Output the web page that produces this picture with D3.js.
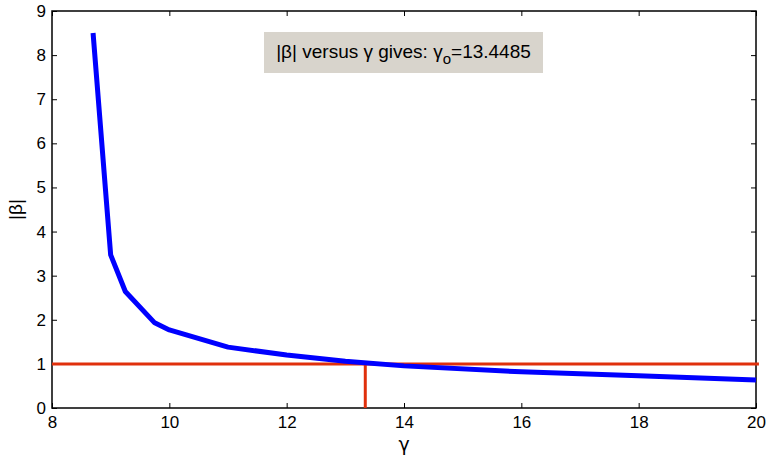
<!DOCTYPE html>
<html>
<head>
<meta charset="utf-8">
<script src="https://cdn.jsdelivr.net/npm/d3@7"></script>
<style>
  body { margin: 0; background: #fff; }
  text { font-family: "Liberation Sans", Arial, sans-serif; }
</style>
</head>
<body>
<div id="main"></div>
<script>
// |beta| versus gamma
const gammaVals = [8.7, 9.0, 9.25, 9.75, 10, 11, 12, 13, 14, 16, 18, 20];
const betaVals = [8.5, 3.47, 2.64, 1.93, 1.77, 1.38, 1.2, 1.06, 0.955, 0.82, 0.73, 0.635];

const refLevel = 1;         // horizontal red line
const gammaMark = 13.34;    // vertical red marker
const xTicks = [8, 10, 12, 14, 16, 18, 20];
const yTicks = [0, 1, 2, 3, 4, 5, 6, 7, 8, 9];

const W = 767, H = 457;
const margin = {top: 11, right: 11, bottom: 49, left: 52};
const width = W - margin.left - margin.right;
const height = H - margin.top - margin.bottom;

const svg = d3.select('#main').append('svg')
    .attr('width', W)
    .attr('height', H);

const g = svg.append('g')
    .attr('transform', 'translate(' + margin.left + ',' + margin.top + ')');

const x = d3.scaleLinear().domain([8, 20]).range([0, width]);
const y = d3.scaleLinear().domain([0, 9]).range([height, 0]);

// axes with inward ticks
function styleAxis(sel) {
    sel.select('.domain').remove();
    sel.selectAll('.tick line').attr('stroke', '#000').attr('stroke-width', 1);
    sel.selectAll('text').attr('font-size', 17).attr('fill', '#000');
}

g.append('g')
    .attr('transform', 'translate(0,' + height + ')')
    .call(d3.axisBottom(x).tickValues(xTicks).tickSize(-5).tickPadding(8))
    .call(styleAxis);

g.append('g')
    .call(d3.axisLeft(y).tickValues(yTicks).tickSize(-5).tickPadding(6))
    .call(styleAxis);

g.append('g')
    .call(d3.axisTop(x).tickValues(xTicks).tickSize(-5).tickFormat(''))
    .call(styleAxis);

g.append('g')
    .attr('transform', 'translate(' + width + ',0)')
    .call(d3.axisRight(y).tickValues(yTicks).tickSize(-5).tickFormat(''))
    .call(styleAxis);

// frame
g.append('rect')
    .attr('width', width)
    .attr('height', height)
    .attr('fill', 'none')
    .attr('stroke', '#000')
    .attr('stroke-width', 1.5);

// red reference lines
g.append('line')
    .attr('x1', x(8)).attr('x2', x(20.05))
    .attr('y1', y(refLevel)).attr('y2', y(refLevel))
    .attr('stroke', '#e0300c')
    .attr('stroke-width', 3);

g.append('line')
    .attr('x1', x(gammaMark)).attr('x2', x(gammaMark))
    .attr('y1', y(0)).attr('y2', y(refLevel))
    .attr('stroke', '#e0300c')
    .attr('stroke-width', 3);

// blue curve
const pts = gammaVals.map((d, i) => [d, betaVals[i]]);
const line = d3.line()
    .x(d => x(d[0]))
    .y(d => y(d[1]));

g.append('path')
    .datum(pts)
    .attr('d', line)
    .attr('fill', 'none')
    .attr('stroke', '#0000ff')
    .attr('stroke-width', 5)
    .attr('stroke-linejoin', 'round');

// annotation box
const box = svg.append('g').attr('transform', 'translate(264,32)');
box.append('rect')
    .attr('width', 279)
    .attr('height', 41)
    .attr('fill', '#d8d4cc');
const t = box.append('text')
    .attr('x', 139.5)
    .attr('y', 26)
    .attr('text-anchor', 'middle')
    .attr('font-size', 19)
    .attr('fill', '#000');
t.append('tspan').text('|β| versus γ gives: γ');
t.append('tspan').attr('font-size', 15).attr('dy', 6).text('o');
t.append('tspan').attr('dy', -6).text('=13.4485');

// axis labels
svg.append('text')
    .attr('x', margin.left + x(14))
    .attr('y', 451)
    .attr('text-anchor', 'middle')
    .attr('font-size', 19)
    .style('font-family', '"DejaVu Sans", sans-serif')
    .text('γ');

svg.append('text')
    .attr('transform', 'translate(22,' + (margin.top + height / 2) + ') rotate(-90)')
    .attr('text-anchor', 'middle')
    .attr('font-size', 19)
    .text('|β|');
</script>
</body>
</html>
